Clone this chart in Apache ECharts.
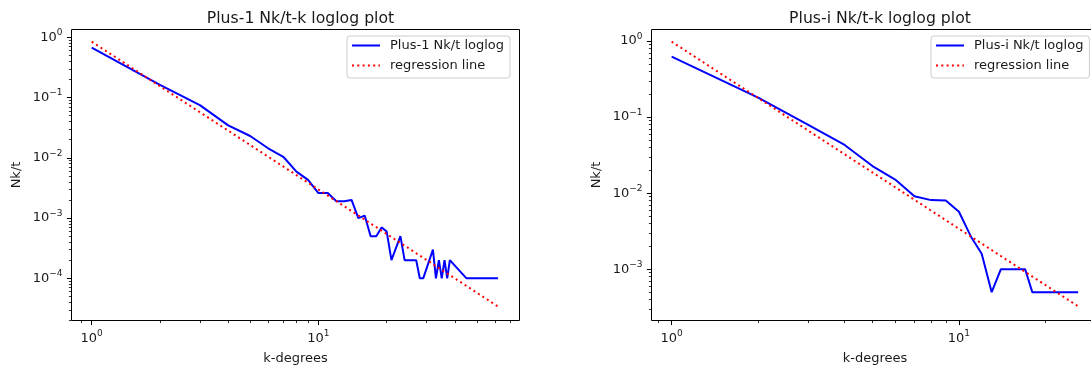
<!DOCTYPE html>
<html><head><meta charset="utf-8">
<script src="https://cdn.jsdelivr.net/npm/echarts@6/dist/echarts.min.js"></script>
<style>html,body{margin:0;padding:0;background:#fff;}#c{width:1091px;height:374px;}</style>
</head><body><div id="c"></div>
<script>
// ---- data ----
const titles = ['Plus-1 Nk/t-k loglog plot', 'Plus-i Nk/t-k loglog plot'];
const seriesNames = ['Plus-1 Nk/t loglog', 'Plus-i Nk/t loglog'];
const regName = 'regression line';
const xName = 'k-degrees';
const yName = 'Nk/t';

const kPlus1 = [1, 2, 3, 4, 5, 6, 7, 8, 9, 10, 11, 12, 13, 14, 15, 16, 17, 18, 19, 20, 21, 23, 24, 27, 28, 29, 32, 33, 34, 35, 36, 37, 38, 45, 62];
const nkPlus1 = [0.674, 0.162, 0.075, 0.0346, 0.023, 0.0144, 0.0104, 0.0059, 0.0043, 0.0026, 0.0026, 0.0019, 0.0019, 0.002, 0.001, 0.0011, 0.0005, 0.0005, 0.0007, 0.0006, 0.0002, 0.0005, 0.0002, 0.0002, 0.0001, 0.0001, 0.0003, 0.0001, 0.0002, 0.0001, 0.0002, 0.0001, 0.0002, 0.0001, 0.0001];
const regPlus1K = [1, 62];
const regPlus1Y = [0.845, 3.4e-5];

const kPlusI = [1, 2, 3, 4, 5, 6, 7, 8, 9, 10, 11, 12, 13, 14, 17, 18, 26];
const nkPlusI = [0.622, 0.18, 0.0785, 0.043, 0.0227, 0.0151, 0.0091, 0.0081, 0.008, 0.0057, 0.0027, 0.0016, 0.0005, 0.001, 0.001, 0.0005, 0.0005];
const regPlusIK = [1, 26];
const regPlusIY = [0.98, 3.25e-4];

const xMajorTicks = [1, 10];
const yMajorTicksLeft = [1, 0.1, 0.01, 0.001, 0.0001];
const yMajorTicksRight = [1, 0.1, 0.01, 0.001];

// ---- axis extents (matching the reference frame) ----
const ext = {
  left:  { xMin: 0.8145, xMax: 77.1, yMin: 1.995e-5, yMax: 1.347 },
  right: { xMin: 0.851,  xMax: 30.6, yMin: 2.12e-4,  yMax: 1.416 }
};

function minorTicks(min, max) {
  const out = [];
  for (let d = Math.floor(Math.log10(min)); d <= Math.ceil(Math.log10(max)); d++) {
    for (let m = 2; m <= 9; m++) {
      const v = Number((m * Math.pow(10, d)).toPrecision(12));
      if (v > min && v < max) out.push(v);
    }
  }
  return out;
}
function zip(a, b) { return a.map((v, i) => [v, b[i]]); }

const FONT = 'DejaVu Sans';
const TXT = '#1a1a1a';
const richLbl = {
  b: { fontSize: 13, lineHeight: 18, fontFamily: FONT, color: TXT },
  s: { fontSize: 9, lineHeight: 9, verticalAlign: 'top', fontFamily: FONT, color: TXT }
};
function powFmt(v) {
  const e = Math.round(Math.log10(v));
  return '{b|10}{s|' + (e < 0 ? '\u2212' + (-e) : e) + '}';
}

function mainAxis(dim, gridIndex, min, max, ticks, name, gap) {
  return {
    type: 'log', logBase: 10, gridIndex, min, max,
    position: dim === 'x' ? 'bottom' : 'left',
    axisLine: { show: false },
    splitLine: { show: false },
    minorTick: { show: false },
    axisTick: { show: true, inside: false, length: 4.6, customValues: ticks, lineStyle: { color: '#000', width: 1 } },
    axisLabel: { show: true, customValues: ticks, margin: 9, formatter: powFmt, rich: richLbl, fontSize: 13, fontFamily: FONT, color: TXT, showMinLabel: true, showMaxLabel: true },
    name, nameLocation: 'middle', nameGap: gap, nameMoveOverlap: false,
    nameTextStyle: { fontSize: 13, fontFamily: FONT, color: TXT }
  };
}
function minorAxis(dim, gridIndex, min, max) {
  return {
    type: 'log', logBase: 10, gridIndex, min, max,
    position: dim === 'x' ? 'bottom' : 'left',
    axisLine: { show: false },
    splitLine: { show: false },
    axisLabel: { show: false },
    axisTick: { show: true, inside: false, length: 2.6, customValues: minorTicks(min, max), lineStyle: { color: '#000', width: 0.8 } }
  };
}
function legendOpt(left, names) {
  return {
    left, top: 36, orient: 'vertical', data: names, itemWidth: 28, itemHeight: 14, itemGap: 7,
    padding: [3, 6, 6, 4], backgroundColor: 'rgba(255,255,255,0.8)', borderColor: '#cccccc', borderWidth: 1, borderRadius: 3,
    selectedMode: false, itemStyle: { opacity: 0 },
    textStyle: { fontSize: 13, fontFamily: FONT, color: TXT, padding: [0, 0, 0, 5] }
  };
}

const L = ext.left, R = ext.right;
const blueLine = { color: '#0000ff', width: 2 };
const redLine = { color: '#ff0000', width: 2, type: [2, 3.3] };
const option = {
  animation: false,
  backgroundColor: '#fff',
  title: [
    { text: titles[0], left: 295.5, top: 6, textAlign: 'center', textStyle: { fontSize: 15.7, fontWeight: 'normal', fontFamily: FONT, color: TXT } },
    { text: titles[1], left: 875, top: 6, textAlign: 'center', textStyle: { fontSize: 15.7, fontWeight: 'normal', fontFamily: FONT, color: TXT } }
  ],
  grid: [
    { left: 71.5, top: 29.5, width: 448, height: 291, show: true, borderColor: '#000', borderWidth: 1, backgroundColor: '#fff', containLabel: false, outerBoundsMode: 'none' },
    { left: 651.5, top: 29.5, width: 447, height: 291, show: true, borderColor: '#000', borderWidth: 1, backgroundColor: '#fff', containLabel: false, outerBoundsMode: 'none' }
  ],
  xAxis: [
    mainAxis('x', 0, L.xMin, L.xMax, xMajorTicks, xName, 32),
    minorAxis('x', 0, L.xMin, L.xMax),
    mainAxis('x', 1, R.xMin, R.xMax, xMajorTicks, xName, 32),
    minorAxis('x', 1, R.xMin, R.xMax)
  ],
  yAxis: [
    mainAxis('y', 0, L.yMin, L.yMax, yMajorTicksLeft, yName, 48),
    minorAxis('y', 0, L.yMin, L.yMax),
    mainAxis('y', 1, R.yMin, R.yMax, yMajorTicksRight, yName, 48),
    minorAxis('y', 1, R.yMin, R.yMax)
  ],
  legend: [
    legendOpt(347, [seriesNames[0], regName]),
    legendOpt(931, [seriesNames[1], regName])
  ],
  series: [
    { name: seriesNames[0], type: 'line', xAxisIndex: 0, yAxisIndex: 0, data: zip(kPlus1, nkPlus1), symbol: 'none', showSymbol: false,
      lineStyle: blueLine, itemStyle: { color: '#0000ff' }, silent: true },
    { name: regName, type: 'line', xAxisIndex: 0, yAxisIndex: 0, data: zip(regPlus1K, regPlus1Y), symbol: 'none', showSymbol: false,
      lineStyle: redLine, itemStyle: { color: '#ff0000' }, silent: true },
    { name: seriesNames[1], type: 'line', xAxisIndex: 2, yAxisIndex: 2, data: zip(kPlusI, nkPlusI), symbol: 'none', showSymbol: false,
      lineStyle: blueLine, itemStyle: { color: '#0000ff' }, silent: true },
    { name: regName, type: 'line', xAxisIndex: 2, yAxisIndex: 2, data: zip(regPlusIK, regPlusIY), symbol: 'none', showSymbol: false,
      lineStyle: redLine, itemStyle: { color: '#ff0000' }, silent: true }
  ]
};
const chart = echarts.init(document.getElementById('c'), null, { renderer: 'canvas' });
chart.setOption(option);
</script></body></html>
